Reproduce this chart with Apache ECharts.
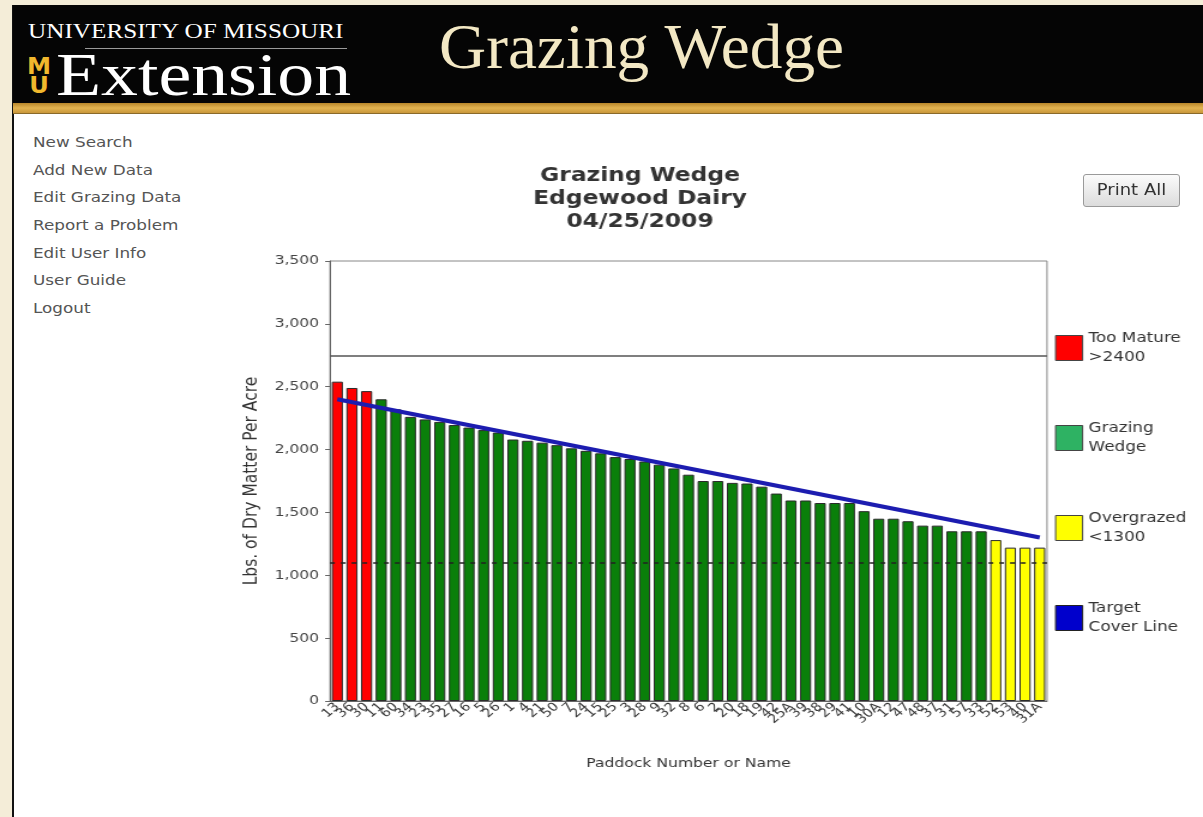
<!DOCTYPE html>
<html>
<head>
<meta charset="utf-8">
<script src="https://cdn.jsdelivr.net/npm/echarts@6/dist/echarts.min.js"></script>
<style>
  html, body { margin:0; padding:0; }
  body { width:1203px; height:817px; background:#f4edd8; position:relative; overflow:hidden; font-family:"DejaVu Sans", Verdana, sans-serif; }
  #content { position:absolute; left:12px; top:5px; right:0; bottom:0; background:#fff; border-left:2px solid #111; }
  #header { position:absolute; left:13px; top:5px; right:0; height:98px; background:#050505; }
  #stripe { position:absolute; left:13px; top:103px; right:0; height:10px; background:linear-gradient(#b8862a,#e2b351 50%,#c9973a); border-bottom:1px solid #8a6a2a; }
  .univ { position:absolute; left:15px; top:14px; color:#fff; font-family:"Liberation Serif", "DejaVu Serif", serif; font-size:21px; transform:scaleX(1.2); transform-origin:left; white-space:nowrap; }
  .rule { position:absolute; left:72px; top:43px; width:262px; height:1px; background:#9a9a9a; }
  .logo { position:absolute; left:14px; top:52px; width:24px; color:#f1b82d; font-family:"DejaVu Sans", sans-serif; font-weight:bold; line-height:19px; font-size:23px; text-align:center; transform:scaleX(1.05); }
  .ext { position:absolute; left:43px; top:38px; color:#fff; font-family:"Liberation Serif", "DejaVu Serif", serif; font-size:62px; line-height:62px; white-space:nowrap; transform:scaleX(1.19); transform-origin:left; }
  .gw { position:absolute; left:426px; top:7px; color:#f3e8c4; font-family:"Liberation Serif", "DejaVu Serif", serif; font-size:64px; line-height:70px; white-space:nowrap; transform:scaleX(1.02); transform-origin:left; }
  #menu { position:absolute; left:33px; top:132px; margin:0; padding:0; list-style:none; font-size:14px; color:#555; transform:scaleX(1.2); transform-origin:left; }
  #menu li { height:27.7px; line-height:20px; }
  #btn { position:absolute; left:1083px; top:174px; width:97px; height:33px; box-sizing:border-box; border:1px solid #9a9a9a; border-radius:3px; background:linear-gradient(#fbfbfb,#dcdcdc); z-index:3; }
  #btn span { display:block; font-size:15px; color:#333; text-align:center; line-height:31px; transform:scaleX(1.2); }
  #chart { position:absolute; left:0; top:0; width:1003px; height:817px; z-index:2; transform:scaleX(1.1994); transform-origin:0 0; }
</style>
</head>
<body>
<div id="content"></div>
<div id="header">
  <div class="univ">UNIVERSITY OF MISSOURI</div>
  <div class="rule"></div>
  <div class="logo">M<br>U</div>
  <div class="ext">Extension</div>
  <div class="gw">Grazing Wedge</div>
</div>
<div id="stripe"></div>
<ul id="menu">
  <li>New Search</li>
  <li>Add New Data</li>
  <li>Edit Grazing Data</li>
  <li>Report a Problem</li>
  <li>Edit User Info</li>
  <li>User Guide</li>
  <li>Logout</li>
</ul>
<div id="btn"><span>Print All</span></div>
<div id="chart"></div>
<script>
// ---- data ----
const paddocks = ["13","36","30","11","60","34","23","35","27","16","5","26","1","4","21","50","7","24","15","25","3","28","9","32","8","6","2","20","18","19","42","25A","39","38","29","41","10","30A","12","47","48","37","31","57","33","52","53","40","31A"];
const cover = [2540,2490,2465,2400,2320,2260,2240,2220,2195,2175,2155,2135,2080,2070,2055,2035,2010,1990,1970,1940,1925,1905,1880,1850,1800,1750,1750,1735,1730,1705,1650,1595,1595,1575,1575,1575,1510,1450,1450,1430,1395,1395,1350,1350,1350,1280,1220,1220,1220];
const targetStart = 2400;   // target cover at first paddock
const targetEnd = 1300;     // target cover at last paddock
const tooMatureLimit = 2400;
const overgrazedLimit = 1300;
const upperRefLine = 2750;
const lowerRefLine = 1100;
const yTicks = { min: 0, max: 3500, interval: 500 };
const seriesNames = ["Too Mature\n>2400", "Grazing\nWedge", "Overgrazed\n<1300", "Target\nCover Line"];

// split into classes
const tooMature = cover.map(v => v > tooMatureLimit ? v : null);
const wedge = cover.map(v => (v <= tooMatureLimit && v >= overgrazedLimit) ? v : null);
const overgrazed = cover.map(v => v < overgrazedLimit ? v : null);
const target = [[0, targetStart], [paddocks.length - 1, targetEnd]];

// the page is horizontally stretched by S; chart is laid out in unstretched units
const S = 1203 / 1003;
const px = x => x / S;

const chart = echarts.init(document.getElementById('chart'), null, { renderer: 'canvas' });
const barBorder = { borderColor: '#2a2a2a', borderWidth: 1 };
chart.setOption({
  backgroundColor: 'transparent',
  animation: false,
  title: {
    text: 'Grazing Wedge\nEdgewood Dairy\n04/25/2009',
    left: px(634), top: 159, textAlign: 'center',
    textStyle: { fontFamily: 'DejaVu Sans', fontWeight: 'bold', fontSize: 19.5, lineHeight: 23, color: '#333' }
  },
  grid: { left: px(330), right: 1003 - px(1047), top: 261, bottom: 116, show: true, borderColor: '#888', borderWidth: 1, backgroundColor: '#fff' },
  legend: {
    orient: 'vertical', left: px(1055), top: 329, padding: 0, itemWidth: px(27), itemHeight: 25, itemGap: 52,
    icon: 'rect',
    textStyle: { fontFamily: 'DejaVu Sans', fontSize: 14, lineHeight: 19, color: '#333' },
    data: [
      { name: seriesNames[0], itemStyle: { color: '#ff0000', borderColor: '#444', borderWidth: 1 } },
      { name: seriesNames[1], itemStyle: { color: '#2eb263', borderColor: '#444', borderWidth: 1 } },
      { name: seriesNames[2], itemStyle: { color: '#ffff00', borderColor: '#444', borderWidth: 1 } },
      { name: seriesNames[3], icon: 'rect', itemStyle: { color: '#0000cc', borderColor: '#222', borderWidth: 1 } }
    ]
  },
  xAxis: {
    type: 'category', data: paddocks,
    name: 'Paddock Number or Name', nameLocation: 'middle', nameGap: 56,
    nameTextStyle: { fontFamily: 'DejaVu Sans', fontSize: 13, color: '#333' },
    axisLine: { lineStyle: { color: '#666' } },
    axisTick: { alignWithLabel: true, length: 4, lineStyle: { color: '#555' } },
    axisLabel: { interval: 0, rotate: 45, fontFamily: 'DejaVu Sans', fontSize: 12, color: '#333', margin: 4 }
  },
  yAxis: {
    type: 'value', min: yTicks.min, max: yTicks.max, interval: yTicks.interval,
    name: 'Lbs. of Dry Matter Per Acre', nameLocation: 'middle', nameGap: 52,
    nameTextStyle: { fontFamily: 'DejaVu Sans', fontSize: 15.5, color: '#333' },
    axisLine: { show: true, lineStyle: { color: '#666' } },
    axisTick: { show: true, length: 4, lineStyle: { color: '#666' } },
    splitLine: { show: false },
    axisLabel: { fontFamily: 'DejaVu Sans', fontSize: 13, color: '#444', margin: 9,
      formatter: v => v.toLocaleString('en-US') }
  },
  series: [
    { name: seriesNames[0], type: 'bar', stack: 'all', data: tooMature, barCategoryGap: '24%',
      itemStyle: Object.assign({ color: '#ff0000' }, barBorder),
      markLine: { silent: true, symbol: 'none', label: { show: false },
        data: [
          { yAxis: upperRefLine, lineStyle: { color: '#555', width: 1.5, type: 'solid' } },
          { yAxis: lowerRefLine, lineStyle: { color: '#222', width: 1.5, type: [4, 5] } }
        ] } },
    { name: seriesNames[1], type: 'bar', stack: 'all', data: wedge,
      itemStyle: Object.assign({ color: '#0a7f0a' }, barBorder) },
    { name: seriesNames[2], type: 'bar', stack: 'all', data: overgrazed,
      itemStyle: Object.assign({ color: '#ffff00' }, barBorder) },
    { name: seriesNames[3], type: 'line', data: target, symbol: 'none', z: 5,
      lineStyle: { color: '#1c1cb0', width: 4 }, itemStyle: { color: '#0000cc' } }
  ]
});
</script>
</body>
</html>
